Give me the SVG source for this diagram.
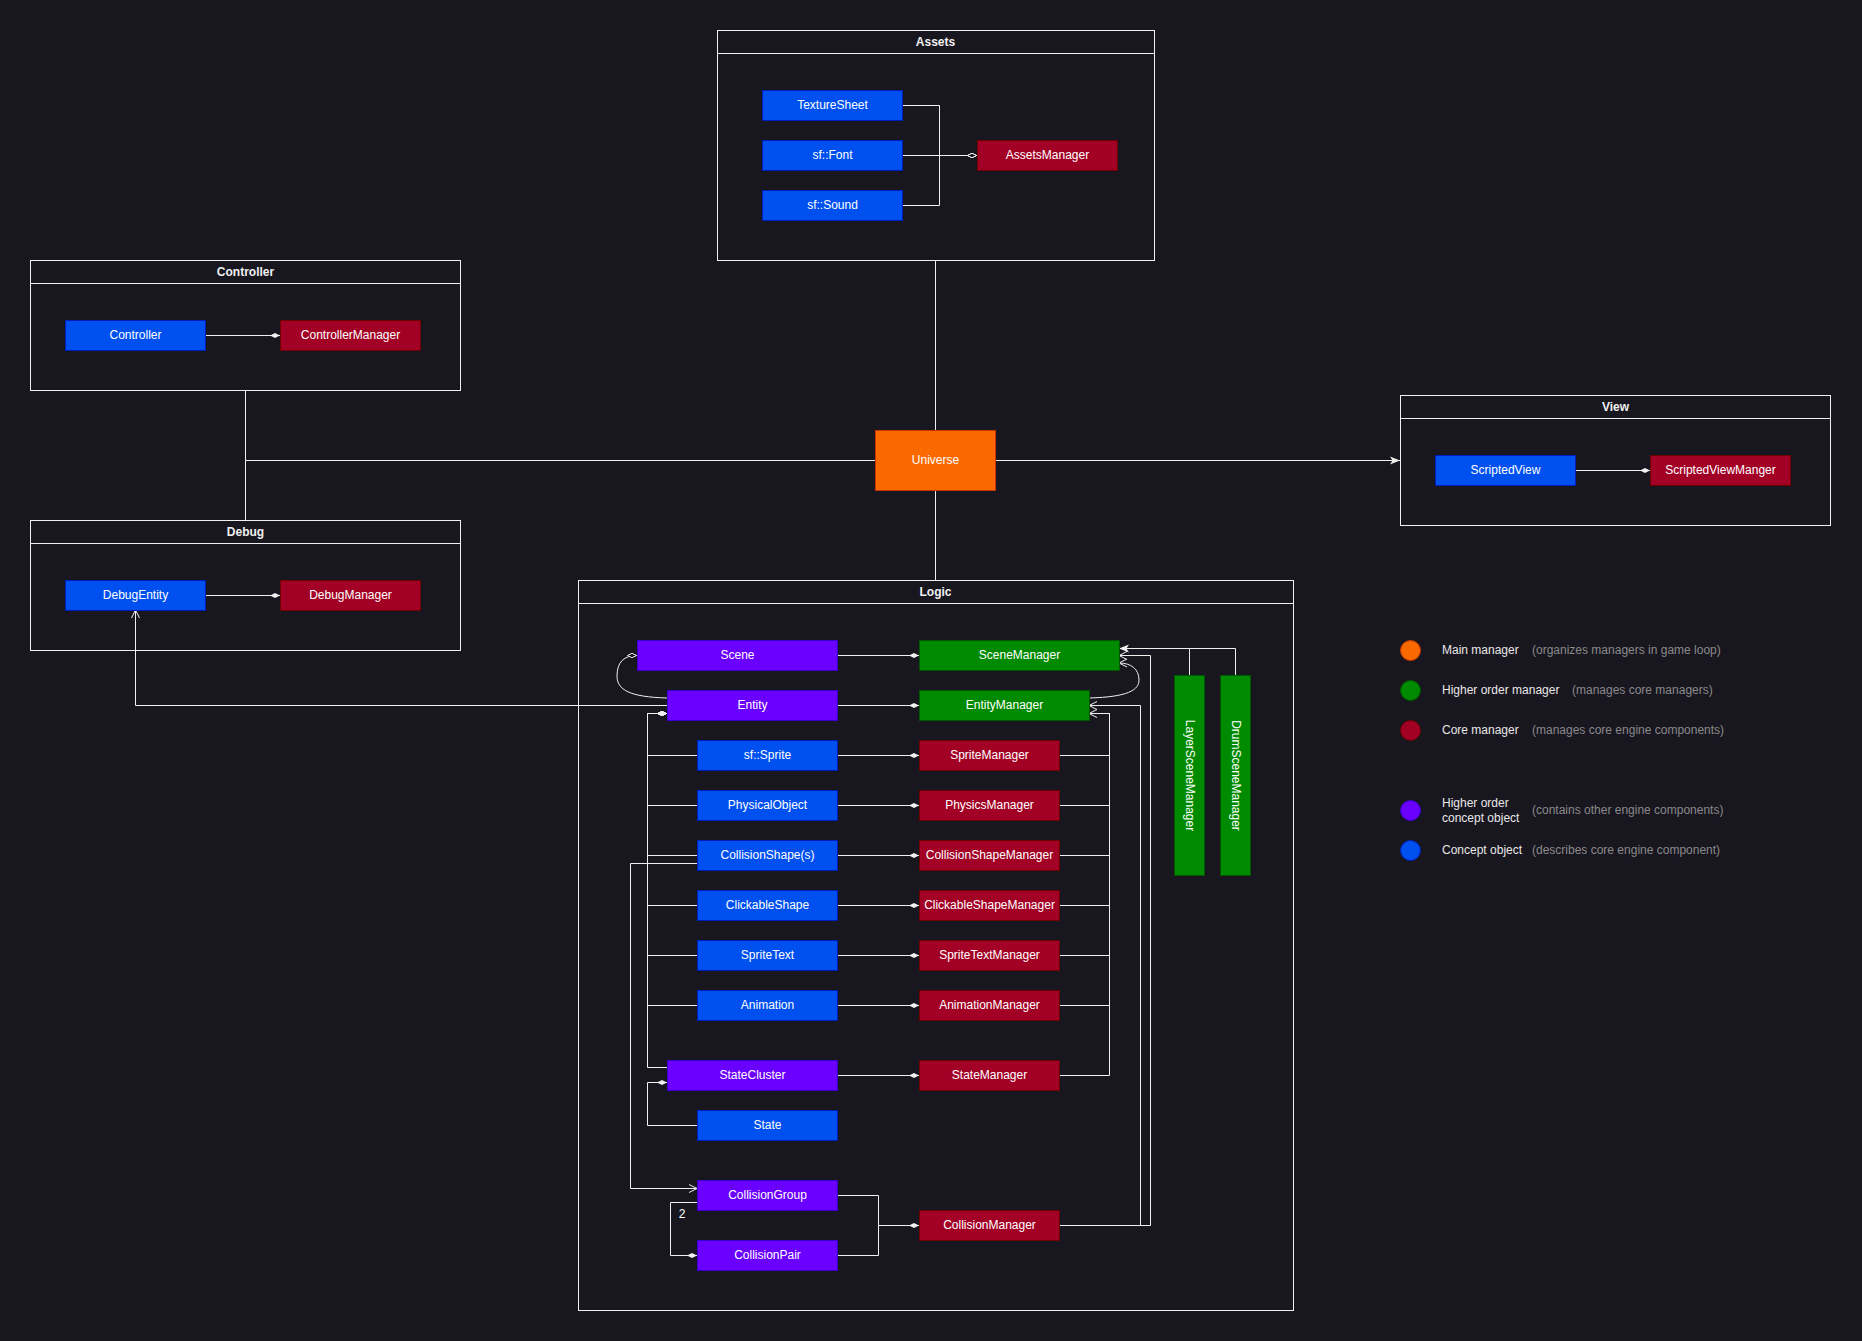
<svg xmlns="http://www.w3.org/2000/svg" width="1862" height="1341" viewBox="0 0 1862 1341">
  <style>
    text { font-family: "Liberation Sans", Arial, sans-serif; font-size: 12px; fill: #ffffff; text-anchor: middle; }
    .title { font-weight: bold; fill: #f0f0f0; }
    .frame { fill: none; stroke: #f0f0f0; stroke-width: 1; }
    .blue { fill: #0050ef; stroke: #001dbc; }
    .red { fill: #a20025; stroke: #6f0000; }
    .green { fill: #008a00; stroke: #005700; }
    .purple { fill: #6a00ff; stroke: #3700cc; }
    .orange { fill: #fa6800; stroke: #c73500; }
    .edge { fill: none; stroke: #f0f0f0; stroke-width: 1; }
    .leg { text-anchor: start; fill: #e8e8e8; }
    .note { text-anchor: start; fill: #8a8a8a; }
    .comp { marker-end: url(#diaFill); }
  </style>
  <defs>
    <marker id="diaFill" markerUnits="userSpaceOnUse" viewBox="0 0 10 6" markerWidth="10" markerHeight="6" refX="10" refY="3" orient="auto">
      <path d="M0,3 L5,0.6 L10,3 L5,5.4 Z" fill="#f0f0f0"/>
    </marker>
    <marker id="diaOpen" markerUnits="userSpaceOnUse" viewBox="0 0 10 6" markerWidth="10" markerHeight="6" refX="10" refY="3" orient="auto">
      <path d="M0.5,3 L5,0.8 L9.5,3 L5,5.2 Z" fill="#18161f" stroke="#f0f0f0" stroke-width="1"/>
    </marker>
    <marker id="arrOpen" markerUnits="userSpaceOnUse" viewBox="0 0 9 10" markerWidth="9" markerHeight="10" refX="8.5" refY="5" orient="auto">
      <path d="M0.5,1 L8.5,5 L0.5,9" fill="none" stroke="#f0f0f0" stroke-width="1"/>
    </marker>
    <marker id="arrFill" markerUnits="userSpaceOnUse" viewBox="0 0 10 9" markerWidth="10" markerHeight="9" refX="10" refY="4.5" orient="auto">
      <path d="M0,0.5 L10,4.5 L0,8.5 L2.5,4.5 Z" fill="#f0f0f0"/>
    </marker>
  </defs>

  <rect x="0" y="0" width="1862" height="1341" fill="#18161f"/>

  <!-- containers -->
  <g id="assets">
    <rect class="frame" x="717.5" y="30.5" width="437" height="230"/>
    <line class="frame" x1="717.5" y1="53.5" x2="1154.5" y2="53.5"/>
    <text class="title" x="935.5" y="45.5">Assets</text>
  </g>
  <g id="controller">
    <rect class="frame" x="30.5" y="260.5" width="430" height="130"/>
    <line class="frame" x1="30.5" y1="283.5" x2="460.5" y2="283.5"/>
    <text class="title" x="245.5" y="275.5">Controller</text>
  </g>
  <g id="debug">
    <rect class="frame" x="30.5" y="520.5" width="430" height="130"/>
    <line class="frame" x1="30.5" y1="543.5" x2="460.5" y2="543.5"/>
    <text class="title" x="245.5" y="535.5">Debug</text>
  </g>
  <g id="view">
    <rect class="frame" x="1400.5" y="395.5" width="430" height="130"/>
    <line class="frame" x1="1400.5" y1="418.5" x2="1830.5" y2="418.5"/>
    <text class="title" x="1615.5" y="410.5">View</text>
  </g>
  <g id="logic">
    <rect class="frame" x="578.5" y="580.5" width="715" height="730"/>
    <line class="frame" x1="578.5" y1="603.5" x2="1293.5" y2="603.5"/>
    <text class="title" x="935.5" y="595.5">Logic</text>
  </g>

  <!-- connectors -->
  <g id="connectors">
    <!-- assets -->
    <path class="edge" d="M902,105.5 H939.5 V155.5 H977" marker-end="url(#diaOpen)"/>
    <path class="edge" d="M902,155.5 H977" marker-end="url(#diaOpen)"/>
    <path class="edge" d="M902,205.5 H939.5 V155.5 H977" marker-end="url(#diaOpen)"/>
    <!-- small packages -->
    <path class="edge comp" d="M205,335.5 H280"/>
    <path class="edge comp" d="M205,595.5 H280"/>
    <path class="edge comp" d="M1575,470.5 H1650"/>
    <!-- universe links -->
    <path class="edge" d="M935.5,260 V430"/>
    <path class="edge" d="M245.5,390 V460.5 H875"/>
    <path class="edge" d="M245.5,520 V460.5"/>
    <path class="edge" d="M995,460.5 H1400" marker-end="url(#arrFill)"/>
    <path class="edge" d="M935.5,490 V580"/>
    <!-- entity to debug entity -->
    <path class="edge" d="M667,705.5 H135.5 V610" marker-end="url(#arrOpen)"/>
    <!-- concept to manager rows -->
    <path class="edge comp" d="M837,655.5 H919"/>
    <path class="edge comp" d="M837,705.5 H919"/>
    <path class="edge comp" d="M837,755.5 H919"/>
    <path class="edge comp" d="M837,805.5 H919"/>
    <path class="edge comp" d="M837,855.5 H919"/>
    <path class="edge comp" d="M837,905.5 H919"/>
    <path class="edge comp" d="M837,955.5 H919"/>
    <path class="edge comp" d="M837,1005.5 H919"/>
    <path class="edge comp" d="M837,1075.5 H919"/>
    <!-- entity components -->
    <path class="edge comp" d="M697,755.5 H647.5 V713.5 H667"/>
    <path class="edge comp" d="M697,805.5 H647.5 V713.5 H667"/>
    <path class="edge comp" d="M697,855.5 H647.5 V713.5 H667"/>
    <path class="edge comp" d="M697,905.5 H647.5 V713.5 H667"/>
    <path class="edge comp" d="M697,955.5 H647.5 V713.5 H667"/>
    <path class="edge comp" d="M697,1005.5 H647.5 V713.5 H667"/>
    <path class="edge comp" d="M667,1067.5 H647.5 V713.5 H667"/>
    <!-- state to state cluster -->
    <path class="edge comp" d="M697,1125.5 H647.5 V1082.5 H667"/>
    <!-- collision shapes to collision group -->
    <path class="edge" d="M697,863.5 H630.5 V1188.5 H697" marker-end="url(#arrOpen)"/>
    <!-- collision group to pair -->
    <path class="edge comp" d="M697,1202.5 H670.5 V1255.5 H697"/>
    <text x="682" y="1218">2</text>
    <!-- collision objects to collision manager -->
    <path class="edge comp" d="M837,1195.5 H878.5 V1225.5 H919"/>
    <path class="edge" d="M837,1255.5 H878.5 V1225.5"/>
    <!-- core managers to entity manager -->
    <path class="edge" d="M1059,755.5 H1109.5 V713.5 H1089" marker-end="url(#arrOpen)"/>
    <path class="edge" d="M1059,805.5 H1109.5 V713.5"/>
    <path class="edge" d="M1059,855.5 H1109.5 V713.5"/>
    <path class="edge" d="M1059,905.5 H1109.5 V713.5"/>
    <path class="edge" d="M1059,955.5 H1109.5 V713.5"/>
    <path class="edge" d="M1059,1005.5 H1109.5 V713.5"/>
    <path class="edge" d="M1059,1075.5 H1109.5 V713.5"/>
    <!-- collision manager to entity / scene managers -->
    <path class="edge" d="M1059,1225.5 H1140.5 V705.5 H1089" marker-end="url(#arrOpen)"/>
    <path class="edge" d="M1059,1225.5 H1150.5 V655.5 H1119" marker-end="url(#arrOpen)"/>
    <!-- entity manager to scene manager -->
    <path class="edge" d="M1089,698 C1128,697 1139,690 1139,680 C1139,669 1131,663 1119,663" marker-end="url(#arrOpen)"/>
    <!-- entity to scene -->
    <path class="edge" d="M667,698 C630,697 617,690 617,676 C617,662 624,655.5 637,655.5" marker-end="url(#diaOpen)"/>
    <!-- specialised scene managers -->
    <path class="edge" d="M1189.5,675 V648.5 H1119" marker-end="url(#arrFill)"/>
    <path class="edge" d="M1235.5,675 V648.5 H1189.5"/>
  </g>

  <!-- nodes -->
  <g id="texture-sheet"><rect class="blue" x="762.5" y="90.5" width="140" height="30"/><text x="832.5" y="109">TextureSheet</text></g>
  <g id="sf-font"><rect class="blue" x="762.5" y="140.5" width="140" height="30"/><text x="832.5" y="159">sf::Font</text></g>
  <g id="sf-sound"><rect class="blue" x="762.5" y="190.5" width="140" height="30"/><text x="832.5" y="209">sf::Sound</text></g>
  <g id="assets-manager"><rect class="red" x="977.5" y="140.5" width="140" height="30"/><text x="1047.5" y="159">AssetsManager</text></g>

  <g id="controller-node"><rect class="blue" x="65.5" y="320.5" width="140" height="30"/><text x="135.5" y="339">Controller</text></g>
  <g id="controller-manager"><rect class="red" x="280.5" y="320.5" width="140" height="30"/><text x="350.5" y="339">ControllerManager</text></g>

  <g id="debug-entity"><rect class="blue" x="65.5" y="580.5" width="140" height="30"/><text x="135.5" y="599">DebugEntity</text></g>
  <g id="debug-manager"><rect class="red" x="280.5" y="580.5" width="140" height="30"/><text x="350.5" y="599">DebugManager</text></g>

  <g id="universe"><rect class="orange" x="875.5" y="430.5" width="120" height="60"/><text x="935.5" y="464">Universe</text></g>

  <g id="scripted-view"><rect class="blue" x="1435.5" y="455.5" width="140" height="30"/><text x="1505.5" y="474">ScriptedView</text></g>
  <g id="scripted-view-manager"><rect class="red" x="1650.5" y="455.5" width="140" height="30"/><text x="1720.5" y="474">ScriptedViewManger</text></g>

  <g id="scene"><rect class="purple" x="637.5" y="640.5" width="200" height="30"/><text x="737.5" y="659">Scene</text></g>
  <g id="entity"><rect class="purple" x="667.5" y="690.5" width="170" height="30"/><text x="752.5" y="709">Entity</text></g>
  <g id="sf-sprite"><rect class="blue" x="697.5" y="740.5" width="140" height="30"/><text x="767.5" y="759">sf::Sprite</text></g>
  <g id="physical-object"><rect class="blue" x="697.5" y="790.5" width="140" height="30"/><text x="767.5" y="809">PhysicalObject</text></g>
  <g id="collision-shapes"><rect class="blue" x="697.5" y="840.5" width="140" height="30"/><text x="767.5" y="859">CollisionShape(s)</text></g>
  <g id="clickable-shape"><rect class="blue" x="697.5" y="890.5" width="140" height="30"/><text x="767.5" y="909">ClickableShape</text></g>
  <g id="sprite-text"><rect class="blue" x="697.5" y="940.5" width="140" height="30"/><text x="767.5" y="959">SpriteText</text></g>
  <g id="animation"><rect class="blue" x="697.5" y="990.5" width="140" height="30"/><text x="767.5" y="1009">Animation</text></g>
  <g id="state-cluster"><rect class="purple" x="667.5" y="1060.5" width="170" height="30"/><text x="752.5" y="1079">StateCluster</text></g>
  <g id="state"><rect class="blue" x="697.5" y="1110.5" width="140" height="30"/><text x="767.5" y="1129">State</text></g>
  <g id="collision-group"><rect class="purple" x="697.5" y="1180.5" width="140" height="30"/><text x="767.5" y="1199">CollisionGroup</text></g>
  <g id="collision-pair"><rect class="purple" x="697.5" y="1240.5" width="140" height="30"/><text x="767.5" y="1259">CollisionPair</text></g>

  <g id="scene-manager"><rect class="green" x="919.5" y="640.5" width="200" height="30"/><text x="1019.5" y="659">SceneManager</text></g>
  <g id="entity-manager"><rect class="green" x="919.5" y="690.5" width="170" height="30"/><text x="1004.5" y="709">EntityManager</text></g>
  <g id="sprite-manager"><rect class="red" x="919.5" y="740.5" width="140" height="30"/><text x="989.5" y="759">SpriteManager</text></g>
  <g id="physics-manager"><rect class="red" x="919.5" y="790.5" width="140" height="30"/><text x="989.5" y="809">PhysicsManager</text></g>
  <g id="collision-shape-manager"><rect class="red" x="919.5" y="840.5" width="140" height="30"/><text x="989.5" y="859">CollisionShapeManager</text></g>
  <g id="clickable-shape-manager"><rect class="red" x="919.5" y="890.5" width="140" height="30"/><text x="989.5" y="909">ClickableShapeManager</text></g>
  <g id="sprite-text-manager"><rect class="red" x="919.5" y="940.5" width="140" height="30"/><text x="989.5" y="959">SpriteTextManager</text></g>
  <g id="animation-manager"><rect class="red" x="919.5" y="990.5" width="140" height="30"/><text x="989.5" y="1009">AnimationManager</text></g>
  <g id="state-manager"><rect class="red" x="919.5" y="1060.5" width="140" height="30"/><text x="989.5" y="1079">StateManager</text></g>
  <g id="collision-manager"><rect class="red" x="919.5" y="1210.5" width="140" height="30"/><text x="989.5" y="1229">CollisionManager</text></g>

  <g id="layer-scene-manager"><rect class="green" x="1174.5" y="675.5" width="30" height="200"/><text transform="translate(1189.5,775.5) rotate(90)" y="4">LayerSceneManager</text></g>
  <g id="drum-scene-manager"><rect class="green" x="1220.5" y="675.5" width="30" height="200"/><text transform="translate(1235.5,775.5) rotate(90)" y="4">DrumSceneManager</text></g>

  <!-- legend -->
  <g id="legend">
    <circle class="orange" cx="1410.5" cy="650.5" r="10"/>
    <text class="leg" x="1442" y="654">Main manager</text>
    <text class="note" x="1532" y="654">(organizes managers in game loop)</text>
    <circle class="green" cx="1410.5" cy="690.5" r="10"/>
    <text class="leg" x="1442" y="694">Higher order manager</text>
    <text class="note" x="1572" y="694">(manages core managers)</text>
    <circle class="red" cx="1410.5" cy="730.5" r="10"/>
    <text class="leg" x="1442" y="734">Core manager</text>
    <text class="note" x="1532" y="734">(manages core engine components)</text>
    <circle class="purple" cx="1410.5" cy="810.5" r="10"/>
    <text class="leg" x="1442" y="806.5">Higher order</text>
    <text class="leg" x="1442" y="821.5">concept object</text>
    <text class="note" x="1532" y="814">(contains other engine components)</text>
    <circle class="blue" cx="1410.5" cy="850.5" r="10"/>
    <text class="leg" x="1442" y="854">Concept object</text>
    <text class="note" x="1532" y="854">(describes core engine component)</text>
  </g>
</svg>
